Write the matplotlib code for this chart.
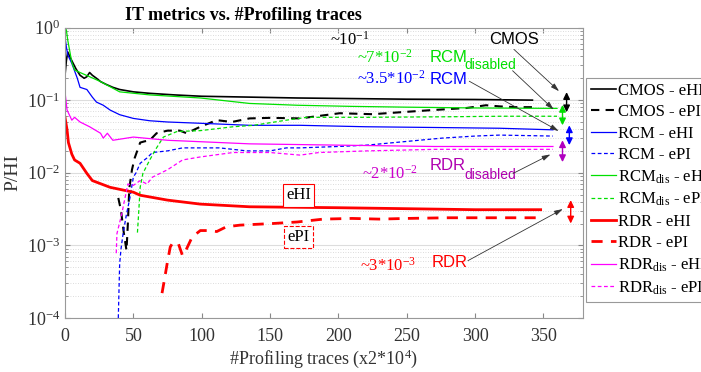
import matplotlib
matplotlib.use("Agg")
import matplotlib.pyplot as plt
from matplotlib.ticker import LogLocator, NullFormatter

plt.rcParams['font.family'] = 'serif'
plt.rcParams['font.serif'] = ['Liberation Serif', 'DejaVu Serif']
plt.rcParams['mathtext.fontset'] = 'custom'
plt.rcParams['mathtext.rm'] = 'Liberation Serif'
plt.rcParams['mathtext.it'] = 'Liberation Serif:italic'
plt.rcParams['mathtext.bf'] = 'Liberation Serif:bold'

# --- data: P/HI vs number of profiling traces (x2*10^4) ---
cmos_ehi_x = [0, 1, 2, 4, 6, 8, 11, 14, 16, 18, 20, 23, 26, 30, 35, 40, 50, 62, 80, 100, 135, 170, 210, 250, 300, 342]
cmos_ehi_y = [0.22, 0.35, 0.46, 0.38, 0.32, 0.27, 0.22, 0.2, 0.21, 0.24, 0.22, 0.2, 0.18, 0.165, 0.15, 0.14, 0.13, 0.124, 0.118, 0.113, 0.11, 0.107, 0.105, 0.103, 0.102, 0.1]

cmos_epi_x = [39, 41, 43, 45, 46, 47, 49, 51, 55, 58, 62, 67, 75, 84, 89, 99, 111, 122, 135, 150, 172, 201, 225, 245, 269, 294, 308, 318, 330, 342]
cmos_epi_y = [0.0045, 0.003, 0.0015, 0.00085, 0.002, 0.006, 0.011, 0.016, 0.026, 0.027, 0.028, 0.035, 0.038, 0.038, 0.035, 0.043, 0.053, 0.05, 0.056, 0.057, 0.056, 0.066, 0.064, 0.068, 0.073, 0.078, 0.085, 0.082, 0.08, 0.08]

rcm_ehi_x = [0, 1, 2, 5, 9, 11, 16, 20, 23, 28, 33, 40, 50, 62, 75, 99, 135, 172, 220, 270, 318, 357]
rcm_ehi_y = [0.74, 0.54, 0.42, 0.32, 0.2, 0.15, 0.14, 0.11, 0.094, 0.085, 0.073, 0.063, 0.056, 0.052, 0.05, 0.048, 0.045, 0.045, 0.043, 0.042, 0.041, 0.039]

rcm_epi_x = [39, 39.5, 40, 41, 42.5, 45, 47.5, 50, 52, 55, 60, 64, 75, 86, 99, 113, 133, 150, 162, 172, 200, 221, 250, 276, 300, 318, 357]
rcm_epi_y = [0.0001, 0.00024, 0.00056, 0.0009, 0.00145, 0.0027, 0.0045, 0.0087, 0.01, 0.0135, 0.016, 0.019, 0.02, 0.022, 0.022, 0.022, 0.02, 0.02, 0.022, 0.022, 0.023, 0.024, 0.027, 0.03, 0.032, 0.033, 0.032]

rcmdis_ehi_x = [0, 1, 2, 5, 7, 11, 18, 26, 40, 62, 99, 135, 170, 210, 250, 300, 360]
rcmdis_ehi_y = [1.0, 0.92, 0.67, 0.33, 0.26, 0.24, 0.21, 0.18, 0.13, 0.118, 0.107, 0.09, 0.085, 0.082, 0.08, 0.078, 0.077]

rcmdis_epi_x = [53, 54, 55, 57, 62, 67, 72, 82, 99, 123, 138, 162, 177, 221, 280, 320, 360]
rcmdis_epi_y = [0.0015, 0.003, 0.0063, 0.0098, 0.015, 0.022, 0.031, 0.037, 0.038, 0.043, 0.045, 0.053, 0.058, 0.058, 0.059, 0.06, 0.06]

rdr_ehi_x = [0, 1.5, 2.5, 5, 7, 11, 16, 20, 33, 50, 55, 75, 99, 135, 200, 250, 300, 348]
rdr_ehi_y = [0.058, 0.039, 0.026, 0.018, 0.015, 0.0135, 0.0098, 0.0078, 0.0063, 0.0054, 0.0049, 0.0042, 0.0037, 0.0034, 0.0033, 0.0032, 0.0031, 0.0031]

rdr_epi_x = [71, 73, 75, 77, 79, 83, 86, 89, 93, 99, 106, 111, 118, 128, 140, 152, 170, 189, 210, 230, 250, 280, 310, 345]
rdr_epi_y = [0.00022, 0.00036, 0.0006, 0.00095, 0.0011, 0.00105, 0.00072, 0.0009, 0.0013, 0.0016, 0.0016, 0.00155, 0.0018, 0.0019, 0.00195, 0.002, 0.0021, 0.0023, 0.00235, 0.0023, 0.00235, 0.0024, 0.0024, 0.0024]

rdrdis_ehi_x = [0, 1.5, 5, 7, 11, 18, 26, 28, 31, 35, 50, 75, 135, 200, 270, 357]
rdrdis_ehi_y = [0.13, 0.073, 0.053, 0.058, 0.05, 0.043, 0.035, 0.03, 0.035, 0.028, 0.031, 0.028, 0.025, 0.024, 0.023, 0.023]

rdrdis_epi_x = [37.5, 38, 41.5, 44, 46, 50, 55, 60, 64, 75, 86, 99, 123, 150, 172, 186, 221, 270, 318, 357]
rdrdis_epi_y = [0.00078, 0.00145, 0.0027, 0.0046, 0.007, 0.0067, 0.0078, 0.007, 0.0087, 0.011, 0.015, 0.0165, 0.019, 0.019, 0.0175, 0.019, 0.02, 0.021, 0.021, 0.021]

# double arrows at the right end: x, low, high, colour
gap_x = [367, 364, 369, 364, 370]
gap_lo = [0.068, 0.045, 0.024, 0.014, 0.002]
gap_hi = [0.129, 0.086, 0.045, 0.028, 0.0042]
gap_colors = ['black', '#00dd00', '#0000ff', '#b000c0', '#ff0000']

green = '#00e000'
blue = '#0000ff'
red = '#ff0000'
magenta = '#ff00ff'

fig = plt.figure(figsize=(7.01, 3.72), dpi=100)
ax = fig.add_axes([65 / 701, 54 / 372, 518 / 701, 290.5 / 372])

ax.plot(cmos_ehi_x, cmos_ehi_y, color='black', lw=1.2, label='CMOS - eHI')
ax.plot(cmos_epi_x, cmos_epi_y, color='black', lw=1.5, ls=(0, (4, 3)), label='CMOS - ePI')
ax.plot(rcm_ehi_x, rcm_ehi_y, color=blue, lw=0.9, label='RCM - eHI')
ax.plot(rcm_epi_x, rcm_epi_y, color=blue, lw=0.9, ls=(0, (3, 2)), label='RCM - ePI')
ax.plot(rcmdis_ehi_x, rcmdis_ehi_y, color=green, lw=0.9, label=r'RCM$_{\rm dis}$ - eHI')
ax.plot(rcmdis_epi_x, rcmdis_epi_y, color=green, lw=0.9, ls=(0, (3, 2)), label=r'RCM$_{\rm dis}$ - ePI')
ax.plot(rdr_ehi_x, rdr_ehi_y, color=red, lw=2.0, label='RDR - eHI')
ax.plot(rdr_epi_x, rdr_epi_y, color=red, lw=2.0, ls=(0, (4, 3)), label='RDR - ePI')
ax.plot(rdrdis_ehi_x, rdrdis_ehi_y, color=magenta, lw=0.9, label=r'RDR$_{\rm dis}$ - eHI')
ax.plot(rdrdis_epi_x, rdrdis_epi_y, color=magenta, lw=0.9, ls=(0, (3, 2)), label=r'RDR$_{\rm dis}$ - ePI')

ax.set_yscale('log')
ax.set_xlim(0, 379)
ax.set_ylim(1e-4, 1)
ax.set_xticks([0, 50, 100, 150, 200, 250, 300, 350])
ax.yaxis.set_major_locator(LogLocator(base=10, numticks=10))
ax.yaxis.set_minor_locator(LogLocator(base=10, subs=range(2, 10), numticks=20))
ax.yaxis.set_minor_formatter(NullFormatter())
ax.tick_params(which='both', direction='in', top=True, right=True, colors='#888888',
               labelcolor='#333333', labelsize=13)
ax.tick_params(axis='x', pad=7)
ax.tick_params(which='minor', length=2)
ax.tick_params(axis='x', which='minor', top=False, bottom=False)
for sp in ax.spines.values():
    sp.set_color('#999999')
    sp.set_linewidth(0.8)

ax.grid(True, axis='y', which='major', color='#dddddd', lw=0.8)
ax.grid(True, axis='y', which='minor', color='#d0d0d0', lw=0.6, ls=(0, (1, 2)))
ax.set_axisbelow(True)

ax.set_xlabel(r'#Profiling traces (x2*10$^{4}$)', fontsize=13, color='#333333', labelpad=2)
ax.set_ylabel('P/HI', fontsize=14, color='#333333', labelpad=4)
fig.text(243 / 701, 1 - 15 / 372, 'IT metrics vs. #Profiling traces', ha='center', va='center',
         fontsize=13, fontweight='bold')

# double arrows showing the eHI/ePI spread
for x, lo, hi, c in zip(gap_x, gap_lo, gap_hi, gap_colors):
    ax.annotate('', xy=(x, lo), xytext=(x, hi), annotation_clip=False,
                arrowprops=dict(arrowstyle='<|-|>,head_width=0.22,head_length=0.45', color=c, lw=1.0,
                                shrinkA=0, shrinkB=0, mutation_scale=9))

# value notes
ax.text(194, 0.67, r'~10$^{-1}$', color='black', fontsize=12, va='center')
ax.text(214, 0.38, r'~7*10$^{-2}$', color=green, fontsize=12, va='center')
ax.text(214, 0.2, r'~3.5*10$^{-2}$', color=blue, fontsize=12, va='center')
ax.text(217, 0.0098, r'~2*10$^{-2}$', color='#cc00cc', fontsize=12, va='center')
ax.text(216, 0.00053, r'~3*10$^{-3}$', color=red, fontsize=12, va='center')

# labelled leader arrows
sans = 'Liberation Sans'
arrow_kw = dict(arrowstyle='-|>,head_width=0.15,head_length=0.5', color='#333333', lw=0.6)
ax.text(310, 0.68, 'CMOS', color='black', fontsize=12, family=sans, va='center')
ax.annotate('', xy=(363, 0.125), xytext=(327, 0.53), arrowprops=arrow_kw)

ax.text(267, 0.39, 'RCM', color=green, fontsize=12, family=sans, va='center')
ax.text(292, 0.3, 'disabled', color=green, fontsize=10, family=sans, va='center')
ax.annotate('', xy=(359, 0.07), xytext=(326, 0.27), arrowprops=arrow_kw)

ax.text(267, 0.19, 'RCM', color=blue, fontsize=12, family=sans, va='center')
ax.annotate('', xy=(363, 0.036), xytext=(294, 0.19), arrowprops=arrow_kw)

ax.text(267, 0.0125, 'RDR', color='#b000b0', fontsize=12, family=sans, va='center')
ax.text(292, 0.0092, 'disabled', color='#b000b0', fontsize=10, family=sans, va='center')
ax.annotate('', xy=(357, 0.0186), xytext=(326, 0.0094), arrowprops=arrow_kw)

ax.text(268, 0.00058, 'RDR', color=red, fontsize=12, family=sans, va='center')
ax.annotate('', xy=(366, 0.0033), xytext=(293, 0.00059), arrowprops=arrow_kw)

# eHI / ePI callout boxes
ax.text(171, 0.0049, 'eHI', fontsize=12, ha='center', va='center',
        bbox=dict(boxstyle='square,pad=0.2', fc='white', ec=red, lw=0.8))
ax.text(171, 0.0013, 'ePI', fontsize=12, ha='center', va='center',
        bbox=dict(boxstyle='square,pad=0.2', fc='white', ec=red, lw=0.8, ls='--'))

leg = ax.legend(loc='upper left', bbox_to_anchor=(586 / 701, 1 - 78 / 372),
                bbox_transform=fig.transFigure, fontsize=12, frameon=True, fancybox=False,
                edgecolor='#999999', framealpha=1, handlelength=1.5, handletextpad=0.15,
                labelspacing=0.32, borderpad=0.3, borderaxespad=0)
leg.get_frame().set_linewidth(0.8)

fig.savefig('out.png', dpi=100)
